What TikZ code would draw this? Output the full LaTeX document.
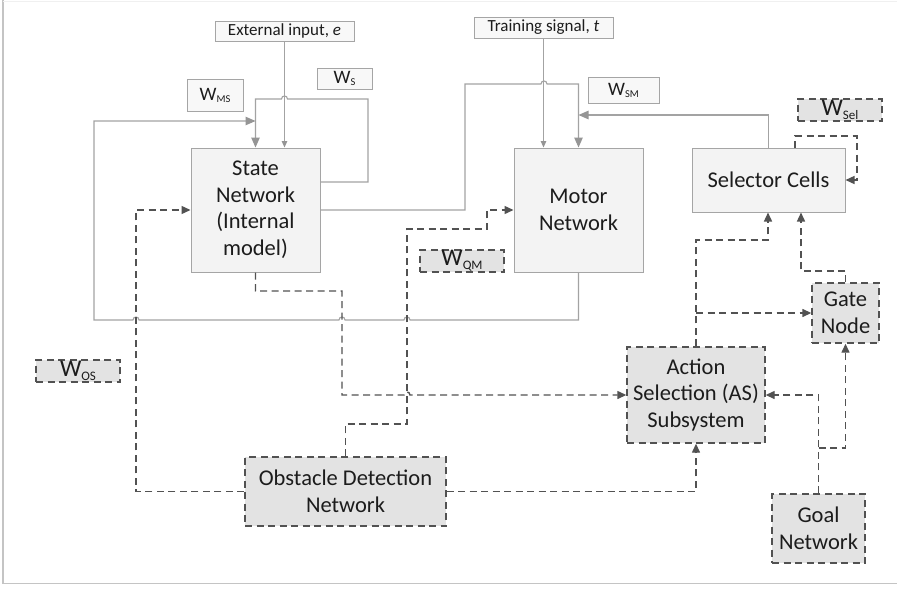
\documentclass[tikz,border=0pt]{standalone}
\usepackage{fontspec}
\setmainfont{Carlito}
\usetikzlibrary{arrows.meta}
\definecolor{lineg}{HTML}{A3A3A3}
\definecolor{tipg}{HTML}{959595}
\definecolor{dashg}{HTML}{525252}
\definecolor{boxline}{HTML}{A5A5A5}
\definecolor{netfill}{HTML}{F3F3F3}
\definecolor{labfill}{HTML}{F8F8F8}
\definecolor{dashfill}{HTML}{E3E3E3}
\definecolor{txt}{HTML}{1C1C1C}
\definecolor{frameg}{HTML}{C4C4C4}
% weight symbol: W with a lowered small subscript
\newcommand\wsym[4]{{\fontsize{#1}{#1}\selectfont W}\raisebox{#4}{\fontsize{#2}{#2}\selectfont #3}}
\begin{document}
\begin{tikzpicture}[x=1pt,y=-1pt,
  netbox/.style={draw=boxline, line width=1pt, fill=netfill, text=txt,
    align=center, inner sep=0pt, font=\fontsize{22.5}{26.5}\selectfont},
  dashbox/.style={draw=dashg, line width=1.4pt, dash pattern=on 7pt off 4.5pt,
    fill=dashfill, text=txt, align=center, inner sep=0pt,
    font=\fontsize{22.5}{26.5}\selectfont},
  labbox/.style={draw=boxline, line width=1pt, fill=labfill, text=txt,
    inner sep=0pt, font=\fontsize{17}{17}\selectfont},
  wdash/.style={draw=dashg, line width=1.4pt, dash pattern=on 7pt off 4.5pt,
    fill=dashfill, text=txt, inner sep=0pt},
  sline/.style={draw=lineg, line width=1.1pt},
  bigtip/.style={-{Triangle[length=10pt,width=8.5pt,color=tipg]}},
  smalltip/.style={-{Triangle[length=6.5pt,width=5.5pt,color=tipg]}},
  dline/.style={draw=dashg, line width=1.4pt, dash pattern=on 7pt off 4.5pt,
    -{Triangle[length=9pt,width=8pt]}}
]
\useasboundingbox (0,0) rectangle (897,592);
\fill[white] (0,0) rectangle (897,592);

% outer frame
\draw[frameg, line width=2pt] (2.5,0) -- (2.5,583.5);
\draw[frameg, line width=1.5pt] (2.5,583.5) -- (897,583.5);
\draw[black!6, line width=1pt] (2.5,1) -- (897,1);

% main networks
\node[netbox, minimum width=129pt, minimum height=124pt] (state) at (255.5,210)
  {State\\Network\\(Internal\\model)};
\node[netbox, minimum width=129pt, minimum height=124pt] (motor) at (578.5,210)
  {Motor\\Network};
\node[netbox, minimum width=153pt, minimum height=64pt] (selector) at (768.5,180)
  {Selector Cells};

% dashed subsystems
\node[dashbox, minimum width=138pt, minimum height=96pt] (actsel) at (696,395)
  {Action\\Selection (AS)\\Subsystem};
\node[dashbox, minimum width=67pt, minimum height=60pt] (gate) at (845.5,313)
  {Gate\\Node};
\node[dashbox, minimum width=93pt, minimum height=69pt] (goal) at (818.5,528.5)
  {Goal\\Network};
\node[dashbox, minimum width=201pt, minimum height=69pt] (obstacle) at (345.5,491.5)
  {Obstacle Detection\\Network};

% input labels
\node[labbox, minimum width=139pt, minimum height=20pt] (extin) at (284.5,31)
  {External input, \textit{e}};
\node[labbox, minimum width=139pt, minimum height=21pt] (train) at (543.5,27.5)
  {Training signal, \textit{t}};

% weight labels
\node[labbox, minimum width=55pt, minimum height=21pt] (wS) at (344.5,78.5)
  {\wsym{19}{10.5}{S}{-2pt}};
\node[labbox, minimum width=56pt, minimum height=32pt] (wMS) at (215,95)
  {\wsym{19}{10.5}{MS}{-2pt}};
\node[labbox, minimum width=71pt, minimum height=26pt] (wSM) at (623.5,90)
  {\wsym{19}{10.5}{SM}{-2pt}};
\node[wdash, minimum width=84pt, minimum height=22pt] (wSel) at (840,110)
  {\wsym{24}{13}{Sel}{-4pt}};
\node[wdash, minimum width=84pt, minimum height=22pt] (wQM) at (462,261)
  {\wsym{24}{13}{QM}{-4pt}};
\node[wdash, minimum width=84pt, minimum height=22pt] (wOS) at (78,371)
  {\wsym{24}{13}{OS}{-4pt}};

% solid connectors
\draw[sline, smalltip] (extin.south) -- (extin.south |- state.north);
\draw[sline, bigtip] (state.east |- 0,182) -- (368,182) -- (368,99)
  -- (287.5,99) .. controls (287.5,95) and (281.5,95) .. (281.5,99)
  -- (state.north |- 0,99) -- (state.north);
\draw[sline, bigtip] (motor.south) -- (578.5,320)
  -- (410,320) .. controls (410,316) and (404,316) .. (404,320)
  -- (345,320) .. controls (345,316) and (339,316) .. (339,320)
  -- (139,320) .. controls (139,316) and (133,316) .. (133,320)
  -- (94,320) -- (94,121) -- (state.north |- 0,121);
\draw[sline, bigtip] (state.east) -- (465,210) -- (465,84)
  -- (541,84) .. controls (541,80) and (547,80) .. (547,84)
  -- (motor.north |- 0,84) -- (motor.north);
\draw[sline, smalltip] (train.south) -- (train.south |- motor.north);
\draw[sline, bigtip] (selector.north) -- (selector.north |- 0,115)
  -- (motor.north |- 0,115);

% dashed connectors
\draw[dline] (795,0 |- selector.north) -- (795,136) -- (857,136)
  -- (857,180) -- (selector.east);
\draw[dline] (obstacle.west) -- (136,0 |- obstacle.west) -- (136,210)
  -- (state.west);
\draw[dline] (obstacle.north) -- (345.5,424) -- (407,424) -- (407,229)
  -- (487,229) -- (487,210) -- (motor.west);
\draw[dline] (state.south) -- (255.5,291) -- (342,291) -- (342,395)
  -- (404,395) .. controls (404,391) and (410,391) .. (410,395)
  -- (actsel.west);
\draw[dline] (obstacle.east) -- (actsel.south |- obstacle.east) -- (actsel.south);
\draw[dline] (goal.north) -- (goal.north |- actsel.east) -- (actsel.east);
\coordinate (gbranch) at (818.5,448);
\draw[dline] (gbranch) -- (gate.south |- gbranch) -- (gate.south);
\draw[dline] (actsel.north) -- (696,240) -- (768,240) -- (768,0 |- selector.south);
\coordinate (abranch) at (696,313);
\draw[dline] (abranch) -- (gate.west);
\draw[dline] (gate.north) -- (845.5,271) -- (801,271) -- (801,0 |- selector.south);
\end{tikzpicture}
\end{document}
